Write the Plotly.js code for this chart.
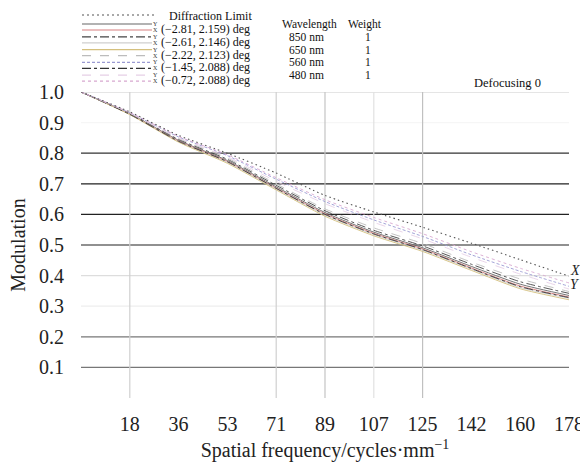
<!DOCTYPE html>
<html><head><meta charset="utf-8">
<script src="https://cdn.plot.ly/plotly-3.0.1.min.js"></script>
<style>html,body{margin:0;padding:0;background:#fff}#chart{width:580px;height:462px}</style>
</head><body><div id="chart"></div>
<script>
// ---- data ----
const freq = [0, 17.8, 35.6, 53.4, 71.2, 89, 106.8, 124.6, 142.4, 160.2, 178];
const xTickVals = [17.8, 35.6, 53.4, 71.2, 89, 106.8, 124.6, 142.4, 160.2, 178];
const xTickText = ['18', '36', '53', '71', '89', '107', '125', '142', '160', '178'];
const yTickVals = [0.1, 0.2, 0.3, 0.4, 0.5, 0.6, 0.7, 0.8, 0.9, 1.0];
const yTickText = ['0.1', '0.2', '0.3', '0.4', '0.5', '0.6', '0.7', '0.8', '0.9', '1.0'];
const diffLimit = [1.0, 0.935, 0.858, 0.800, 0.735, 0.662, 0.608, 0.558, 0.506, 0.452, 0.398];
const f281Y = [1.0, 0.929, 0.842, 0.776, 0.690, 0.606, 0.542, 0.491, 0.430, 0.372, 0.335];
const f281X = [1.0, 0.928, 0.840, 0.773, 0.686, 0.602, 0.538, 0.487, 0.425, 0.366, 0.330];
const f261Y = [1.0, 0.930, 0.845, 0.780, 0.695, 0.612, 0.548, 0.497, 0.437, 0.380, 0.342];
const f261X = [1.0, 0.927, 0.838, 0.770, 0.683, 0.598, 0.534, 0.483, 0.421, 0.361, 0.326];
const f222Y = [1.0, 0.926, 0.836, 0.767, 0.680, 0.594, 0.530, 0.479, 0.417, 0.357, 0.321];
const f222X = [1.0, 0.931, 0.848, 0.784, 0.700, 0.618, 0.556, 0.505, 0.444, 0.389, 0.348];
const f145Y = [1.0, 0.932, 0.853, 0.792, 0.715, 0.642, 0.582, 0.528, 0.468, 0.414, 0.365];
const f145X = [1.0, 0.927, 0.839, 0.772, 0.685, 0.600, 0.536, 0.485, 0.423, 0.364, 0.328];
const f072Y = [1.0, 0.931, 0.850, 0.788, 0.708, 0.635, 0.574, 0.520, 0.460, 0.405, 0.356];
const f072X = [1.0, 0.933, 0.855, 0.795, 0.720, 0.648, 0.590, 0.537, 0.478, 0.424, 0.376];
const fieldLabels = ['(\u22122.81, 2.159) deg', '(\u22122.61, 2.146) deg', '(\u22122.22, 2.123) deg', '(\u22121.45, 2.088) deg', '(\u22120.72, 2.088) deg'];
const wavelengths = ['850 nm', '650 nm', '560 nm', '480 nm'];
const weights = ['1', '1', '1', '1'];
const gridXVals = [17.8, 71.2, 89, 106.8, 124.6];

// ---- styles ----
const FONT = 'Liberation Serif, Times New Roman, serif';
const fieldSeries = [f281Y, f281X, f261Y, f261X, f222Y, f222X, f145Y, f145X, f072Y, f072X];
const fieldStyles = [
  {color: '#666666', dash: 'solid'},
  {color: '#d88080', dash: 'solid'},
  {color: '#444444', dash: 'dashdot'},
  {color: '#cfcfcf', dash: 'solid'},
  {color: '#d4c07e', dash: 'solid'},
  {color: '#bcbcbc', dash: 'dash'},
  {color: '#9a9ad2', dash: '3px,2px'},
  {color: '#333333', dash: 'dashdot'},
  {color: '#e6d0e6', dash: 'dash'},
  {color: '#d8a8d0', dash: 'dot'}
];
const gridYColors = ['#777', '#777', '#eeeeee', '#dddddd', '#222', '#222', '#222', '#333', '#f6f6f6', '#cccccc'];
const gridXColors = ['#d0d0d0', '#d0d0d0', '#c4c4c4', '#e2e2e2', '#c0c0c0'];

// plot area in pixels
const L = 81, R = 569, T = 92, B = 398;
const px = v => (v - L) / (R - L);
const py = v => (B - v) / (B - T);

const traces = [];
fieldSeries.forEach((s, i) => {
  traces.push({x: freq, y: s, type: 'scatter', mode: 'lines',
    line: {color: fieldStyles[i].color, dash: fieldStyles[i].dash, width: 0.9, shape: 'spline', smoothing: 0.6},
    hoverinfo: 'skip', showlegend: false});
});
traces.push({x: freq, y: diffLimit, type: 'scatter', mode: 'lines',
  line: {color: '#555', dash: '1.5px,3px', width: 1.1, shape: 'spline', smoothing: 0.6},
  hoverinfo: 'skip', showlegend: false});

const shapes = [];
yTickVals.forEach((v, i) => shapes.push({type: 'line', xref: 'paper', yref: 'y', x0: 0, x1: 1, y0: v, y1: v,
  line: {color: gridYColors[i], width: 1.2}, layer: 'below'}));
gridXVals.forEach((v, i) => shapes.push({type: 'line', xref: 'x', yref: 'paper', x0: v, x1: v, y0: 0, y1: 1,
  line: {color: gridXColors[i], width: 1.2}, layer: 'below'}));

const annotations = [];
// legend
shapes.push({type: 'line', xref: 'paper', yref: 'paper', x0: px(82), x1: px(155), y0: py(15), y1: py(15),
  line: {color: '#555', dash: '2px,3px', width: 1.2}});
annotations.push({xref: 'paper', yref: 'paper', x: px(167), y: py(16), text: 'Diffraction Limit', showarrow: false,
  xanchor: 'left', yanchor: 'middle', font: {family: FONT, size: 12, color: '#111'}});
fieldLabels.forEach((lab, i) => {
  const c = 29 + 12.8 * i;
  [0, 1].forEach(k => {
    const st = fieldStyles[2 * i + k];
    const yy = c - 5 + 6 * k;
    shapes.push({type: 'line', xref: 'paper', yref: 'paper', x0: px(82), x1: px(152), y0: py(yy), y1: py(yy),
      line: {color: st.color, dash: st.dash, width: 1.2}});
    annotations.push({xref: 'paper', yref: 'paper', x: px(155), y: py(yy), text: k === 0 ? 'Y' : 'X', showarrow: false,
      xanchor: 'center', yanchor: 'middle', font: {family: FONT, size: 6, color: '#333'}});
  });
  annotations.push({xref: 'paper', yref: 'paper', x: px(159), y: py(c), text: lab, showarrow: false,
    xanchor: 'left', yanchor: 'middle', font: {family: FONT, size: 12, color: '#111'}});
});
annotations.push({xref: 'paper', yref: 'paper', x: px(309), y: py(24.5), text: 'Wavelength', showarrow: false,
  xanchor: 'center', yanchor: 'middle', font: {family: FONT, size: 11.5, color: '#111'}});
annotations.push({xref: 'paper', yref: 'paper', x: px(365), y: py(24.5), text: 'Weight', showarrow: false,
  xanchor: 'center', yanchor: 'middle', font: {family: FONT, size: 11.5, color: '#111'}});
wavelengths.forEach((w, i) => {
  const yy = 37.3 + 12.6 * i;
  annotations.push({xref: 'paper', yref: 'paper', x: px(306), y: py(yy), text: w, showarrow: false,
    xanchor: 'center', yanchor: 'middle', font: {family: FONT, size: 11.5, color: '#111'}});
  annotations.push({xref: 'paper', yref: 'paper', x: px(368), y: py(yy), text: weights[i], showarrow: false,
    xanchor: 'center', yanchor: 'middle', font: {family: FONT, size: 11.5, color: '#111'}});
});
annotations.push({xref: 'paper', yref: 'paper', x: px(543), y: py(83), text: 'Defocusing 0', showarrow: false,
  xanchor: 'right', yanchor: 'middle', font: {family: FONT, size: 12.5, color: '#111'}});
annotations.push({xref: 'paper', yref: 'paper', x: px(575), y: py(270), text: '<i>X</i>', showarrow: false,
  xanchor: 'center', yanchor: 'middle', font: {family: FONT, size: 14, color: '#222'}});
annotations.push({xref: 'paper', yref: 'paper', x: px(575), y: py(284), text: '<i>Y</i>', showarrow: false,
  xanchor: 'center', yanchor: 'middle', font: {family: FONT, size: 14, color: '#222'}});

const layout = {
  width: 580, height: 462,
  margin: {l: L, r: 580 - R, t: T, b: 462 - B, pad: 0},
  paper_bgcolor: '#fff', plot_bgcolor: '#fff',
  showlegend: false,
  xaxis: {range: [0, 178], tickvals: xTickVals, ticktext: xTickText, showgrid: false, zeroline: false,
    showline: false, ticks: '', ticklabelstandoff: 12, ticklabeloverflow: 'allow', automargin: false,
    tickfont: {family: FONT, size: 20, color: '#222'},
    title: {text: 'Spatial frequency/cycles\u00b7mm<sup>\u22121</sup>', font: {family: FONT, size: 20, color: '#222'}, standoff: 10}},
  yaxis: {range: [0, 1.0], tickvals: yTickVals, ticktext: yTickText, showgrid: false, zeroline: false,
    showline: false, ticks: '', ticklabelstandoff: 16, automargin: false,
    tickfont: {family: FONT, size: 20, color: '#222'},
    title: {text: 'Modulation', font: {family: FONT, size: 20, color: '#222'}, standoff: 8}},
  shapes: shapes, annotations: annotations
};
Plotly.newPlot('chart', traces, layout, {displayModeBar: false, staticPlot: true});
</script></body></html>
